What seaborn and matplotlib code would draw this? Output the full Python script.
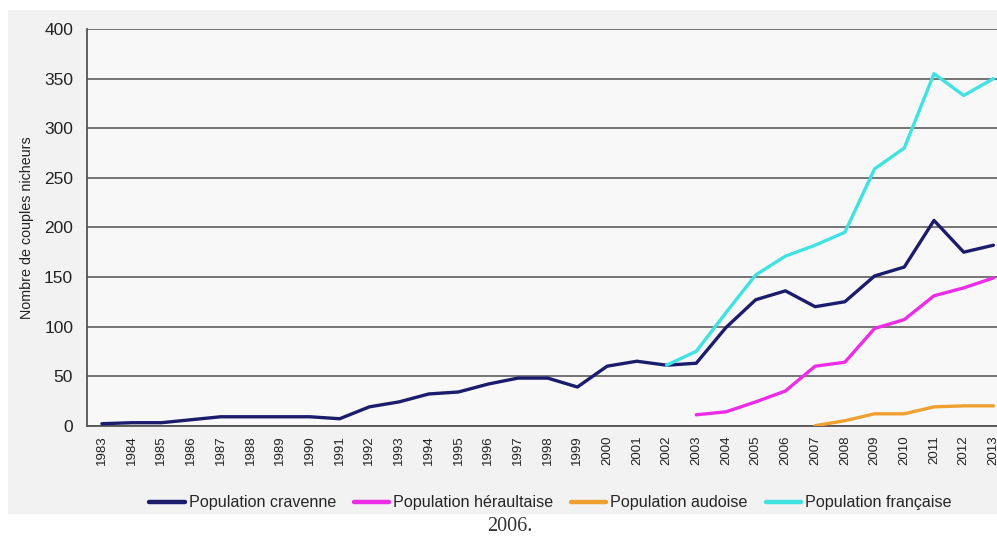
import pandas as pd
import numpy as np
import matplotlib.pyplot as plt
import seaborn as sns
from matplotlib.patches import Rectangle

# données (nombre de couples nicheurs)
years = list(range(1983, 2014))

cravenne = [2, 3, 3, 6, 9, 9, 9, 9, 7, 19, 24, 32, 34, 42, 48, 48, 39, 60, 65, 61,
            63, 99, 127, 136, 120, 125, 151, 160, 207, 175, 182]

herault_years = list(range(2003, 2014))
heraultaise = [11, 14, 24, 35, 60, 64, 98, 107, 131, 139, 149]

aude_years = list(range(2007, 2014))
audoise = [0, 5, 12, 12, 19, 20, 20]

france_years = list(range(2002, 2014))
francaise = [61, 75, 114, 152, 171, 182, 195, 259, 280, 355, 333, 350]

series_names = ["Population cravenne", "Population héraultaise",
                "Population audoise", "Population française"]
series_colors = ["#1c1c6c", "#ec2ce6", "#f0a030", "#40e2e2"]


def build_long_df():
    """Assemble les séries dans un tableau long pour seaborn."""
    parts = [
        pd.DataFrame({"annee": years, "valeur": cravenne, "serie": series_names[0]}),
        pd.DataFrame({"annee": herault_years, "valeur": heraultaise, "serie": series_names[1]}),
        pd.DataFrame({"annee": aude_years, "valeur": audoise, "serie": series_names[2]}),
        pd.DataFrame({"annee": france_years, "valeur": francaise, "serie": series_names[3]}),
    ]
    return pd.concat(parts, ignore_index=True)


df = build_long_df()

sns.set_style("white")
plt.rcParams['font.family'] = ['Liberation Sans', 'DejaVu Sans']

fig = plt.figure(figsize=(9.97, 5.36), dpi=100, facecolor="white")
# fond gris clair du graphique d'origine (derrière les axes)
bg = Rectangle((0.008, 0.041), 0.992, 0.940, transform=fig.transFigure,
               facecolor="#f2f2f2", edgecolor="none", zorder=-10)
fig.add_artist(bg)

ax = fig.add_axes([0.0873, 0.2058, 0.9127, 0.740])
ax.set_facecolor("#f8f8f8")

sns.lineplot(data=df, x="annee", y="valeur", hue="serie", hue_order=series_names,
             palette=series_colors, linewidth=2.4, ax=ax, legend=False, zorder=3)

# axes
ax.set_xlim(years[0] - 0.5, years[-1] + 0.12)
ax.set_ylim(0, 400)
ax.set_yticks(np.arange(0, 401, 50))
ax.set_xticks(years)
ax.set_xticklabels([str(y) for y in years], rotation=90, fontsize=9.5)
ax.set_xticks(np.arange(years[0] - 0.5, years[-1] + 0.5, 1), minor=True)
ax.tick_params(axis="x", which="major", length=0, pad=7, colors="#222222")
ax.tick_params(axis="x", which="minor", length=6, direction="inout", color="#555555", width=1)
ax.tick_params(axis="y", length=6, direction="out", color="#555555", width=1,
               labelsize=12.5, labelcolor="#222222", pad=4)

ax.grid(axis="y", color="#6a6a6a", linewidth=1.3, zorder=1)
ax.set_axisbelow(True)
for side in ["top", "right"]:
    ax.spines[side].set_visible(False)
for side in ["left", "bottom"]:
    ax.spines[side].set_color("#555555")
    ax.spines[side].set_linewidth(1.3)

ax.set_xlabel("")
ax.set_ylabel("Nombre de couples nicheurs", fontsize=10.3, color="#222222", labelpad=7)

# légende sous le graphique
handles = [plt.Line2D([], [], color=c, linewidth=3.2) for c in series_colors]
ax.legend(handles, series_names, loc="center", bbox_to_anchor=(0.552, 0.0616),
          bbox_transform=fig.transFigure, ncol=4, frameon=False, fontsize=11.6,
          handlelength=2.2, handletextpad=0.25, columnspacing=1.1)

fig.text(0.511, 0.0168, "2006.", ha="center", va="center", fontsize=14.5,
         family="Liberation Serif", color="#333333")

plt.savefig("out.png", dpi=100, facecolor=fig.get_facecolor())
